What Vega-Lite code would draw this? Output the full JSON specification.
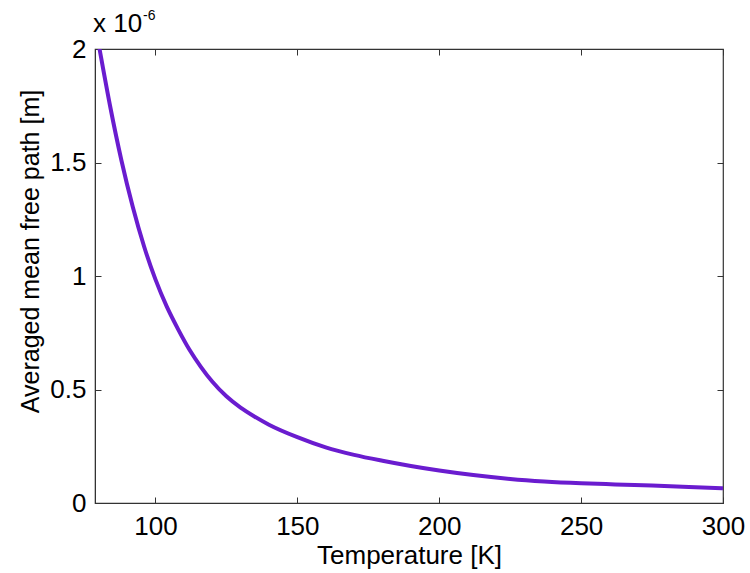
{
  "$schema": "https://vega.github.io/schema/vega-lite/v6.json",
  "width": 628,
  "height": 454,
  "autosize": {"type": "none"},
  "padding": {"left": 95, "top": 49, "right": 27, "bottom": 70},
  "background": "white",
  "config": {
    "font": "Liberation Sans",
    "view": {"stroke": "#333333", "strokeWidth": 1.2},
    "axis": {
      "grid": false,
      "domainColor": "#333333",
      "tickColor": "#333333",
      "tickSize": -6,
      "labelColor": "#000000",
      "titleColor": "#000000",
      "labelFont": "Liberation Sans",
      "titleFont": "Liberation Sans",
      "labelFontSize": 26,
      "titleFontSize": 26,
      "titleFontWeight": "normal",
      "labelFlush": false,
      "labelOverlap": false
    }
  },
  "data": {
    "values": [
      {"T": 79.0, "mfp": 2.09e-6},
      {"T": 80.3, "mfp": 2.0e-6},
      {"T": 84, "mfp": 1.75e-6},
      {"T": 88, "mfp": 1.51e-6},
      {"T": 92, "mfp": 1.305e-6},
      {"T": 96, "mfp": 1.13e-6},
      {"T": 100, "mfp": 0.985e-6},
      {"T": 104, "mfp": 0.865e-6},
      {"T": 108, "mfp": 0.765e-6},
      {"T": 112, "mfp": 0.675e-6},
      {"T": 116, "mfp": 0.6e-6},
      {"T": 120, "mfp": 0.535e-6},
      {"T": 125, "mfp": 0.47e-6},
      {"T": 130, "mfp": 0.42e-6},
      {"T": 135, "mfp": 0.38e-6},
      {"T": 140, "mfp": 0.345e-6},
      {"T": 150, "mfp": 0.29e-6},
      {"T": 160, "mfp": 0.245e-6},
      {"T": 170, "mfp": 0.212e-6},
      {"T": 180, "mfp": 0.186e-6},
      {"T": 190, "mfp": 0.163e-6},
      {"T": 200, "mfp": 0.143e-6},
      {"T": 212, "mfp": 0.123e-6},
      {"T": 225, "mfp": 0.106e-6},
      {"T": 237, "mfp": 0.095e-6},
      {"T": 250, "mfp": 0.087e-6},
      {"T": 262, "mfp": 0.082e-6},
      {"T": 275, "mfp": 0.077e-6},
      {"T": 288, "mfp": 0.071e-6},
      {"T": 300, "mfp": 0.065e-6}
    ]
  },
  "layer": [
    {
      "mark": {"type": "line", "color": "#6a1ccf", "strokeWidth": 4, "clip": true, "interpolate": "monotone"},
      "encoding": {
        "x": {
          "field": "T", "type": "quantitative",
          "scale": {"domain": [78.7, 300], "nice": false, "zero": false},
          "axis": {"values": [100, 150, 200, 250, 300], "title": "Temperature [K]", "labelPadding": 16, "titlePadding": 3}
        },
        "y": {
          "field": "mfp", "type": "quantitative",
          "scale": {"domain": [0, 2e-6], "nice": false},
          "axis": {
            "values": [0, 0.5e-6, 1e-6, 1.5e-6, 2e-6],
            "labelExpr": "format(datum.value * 1e6, '~g')",
            "title": "Averaged mean free path [m]",
            "titleFontSize": 25,
            "labelPadding": 15,
            "titleX": -65,
            "titleY": 202,
            "titleBaseline": "middle",
            "titleAlign": "center"
          }
        }
      }
    },
    {
      "data": {"values": [{"T": 78.7, "mfp": 2e-6, "base": "x 10", "exp": "-6"}]},
      "layer": [
        {
          "mark": {"type": "text", "fontSize": 26, "align": "left", "baseline": "alphabetic", "dx": -2, "dy": -17, "color": "#000000"},
          "encoding": {"text": {"field": "base"}}
        },
        {
          "mark": {"type": "text", "fontSize": 14, "align": "left", "baseline": "alphabetic", "dx": 48, "dy": -29, "color": "#000000"},
          "encoding": {"text": {"field": "exp"}}
        }
      ],
      "encoding": {
        "x": {"field": "T", "type": "quantitative", "axis": {"orient": "top", "values": [100, 150, 200, 250, 300], "labels": false, "title": null, "domain": false}},
        "y": {"field": "mfp", "type": "quantitative", "axis": {"orient": "right", "values": [0, 0.5e-6, 1e-6, 1.5e-6, 2e-6], "labels": false, "title": null, "domain": false}}
      }
    }
  ],
  "resolve": {"axis": {"x": "independent", "y": "independent"}}
}
